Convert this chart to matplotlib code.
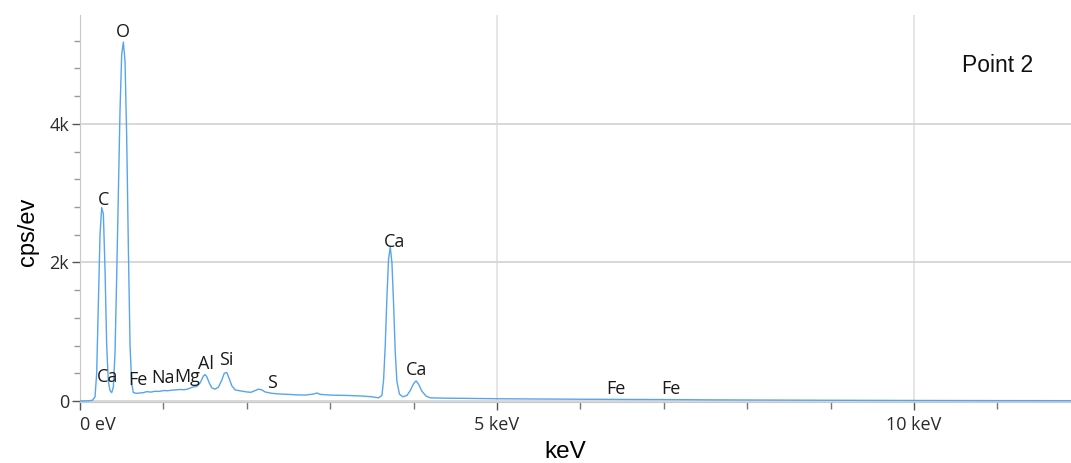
import matplotlib
matplotlib.use("Agg")
import matplotlib.pyplot as plt
from matplotlib.ticker import MultipleLocator, FixedLocator

# Spectrum (energy in keV, counts in cps/eV)
energy_kev = [0.00, 0.10, 0.15, 0.18, 0.20, 0.22, 0.24, 0.26, 0.28, 0.30, 0.32, 0.34,
              0.36, 0.38, 0.40, 0.42, 0.44, 0.46, 0.48, 0.50, 0.52, 0.54, 0.56, 0.58,
              0.60, 0.62, 0.64, 0.68, 0.72, 0.76, 0.80, 0.85, 0.90, 0.95, 1.00, 1.05,
              1.10, 1.15, 1.20, 1.25, 1.30, 1.35, 1.40, 1.44, 1.48, 1.50, 1.52, 1.55,
              1.58, 1.62, 1.66, 1.70, 1.73, 1.76, 1.79, 1.82, 1.86, 1.90, 1.95, 2.00,
              2.05, 2.10, 2.14, 2.18, 2.22, 2.26, 2.30, 2.40, 2.50, 2.60, 2.70, 2.80,
              2.84, 2.88, 3.00, 3.10, 3.20, 3.30, 3.40, 3.50, 3.58, 3.62, 3.64, 3.66,
              3.68, 3.70, 3.72, 3.74, 3.76, 3.78, 3.80, 3.83, 3.87, 3.92, 3.96, 4.00,
              4.03, 4.06, 4.10, 4.15, 4.20, 4.40, 4.60, 4.80, 5.00, 5.50, 6.00, 6.50,
              7.00, 7.50, 8.00, 9.00, 10.00, 11.00, 11.90]
counts = [0, 2, 10, 60, 400, 1400, 2400, 2790, 2700, 1900, 800, 280,
          150, 120, 200, 700, 1800, 3000, 4200, 5000, 5180, 4900, 3800, 2200,
          800, 250, 120, 110, 115, 120, 135, 128, 140, 138, 150, 148,
          155, 160, 165, 162, 175, 200, 210, 260, 360, 380, 350, 260,
          190, 170, 200, 300, 400, 410, 320, 220, 160, 150, 140, 130,
          125, 150, 170, 160, 130, 120, 110, 100, 95, 88, 85, 100,
          115, 95, 85, 82, 80, 75, 70, 60, 45, 80, 300, 800,
          1500, 2050, 2220, 2000, 1400, 700, 280, 100, 60, 80, 150, 250,
          290, 240, 140, 70, 45, 40, 38, 35, 32, 28, 25, 22,
          20, 16, 14, 10, 7, 5, 4]

# Element labels (label, energy keV, label height cps/eV)
peak_labels = ["O", "C", "Ca", "Fe", "Na", "Mg", "Al", "Si", "S", "Ca", "Ca", "Fe", "Fe"]
label_x = [0.52, 0.28, 0.33, 0.69, 1.00, 1.29, 1.51, 1.75, 2.30, 3.77, 4.03, 6.43, 7.09]
label_y = [5320, 2900, 340, 300, 330, 350, 540, 590, 260, 2290, 450, 170, 170]

x_tick_vals = [0, 5, 10]
x_tick_labels = ["0 eV", "5 keV", "10 keV"]
y_tick_vals = [0, 2000, 4000]
y_tick_labels = ["0", "2k", "4k"]

fig = plt.figure(figsize=(10.71, 4.63), dpi=100)
ax = fig.add_axes([80/1071, (463-402)/463, 1 - 80/1071, (402-15)/463])

ax.plot(energy_kev, counts, color="#56a5ee", lw=1.0, zorder=3)

ax.set_xlim(0, (1071-80)/83.4)
ax.set_ylim(-15, 5570)

ax.xaxis.set_major_locator(FixedLocator(x_tick_vals))
ax.xaxis.set_minor_locator(MultipleLocator(1))
ax.yaxis.set_major_locator(FixedLocator(y_tick_vals))
ax.yaxis.set_minor_locator(MultipleLocator(400))
ax.set_xticklabels(x_tick_labels, fontfamily="Open Sans", fontsize=13, color="#2a2a2a")
ax.set_yticklabels(y_tick_labels, fontfamily="Open Sans", fontsize=13, color="#2a2a2a")
ax.get_xticklabels()[0].set_horizontalalignment("left")

ax.tick_params(axis="x", which="major", length=6, width=1, color="#555555", pad=4)
ax.tick_params(axis="x", which="minor", length=5, width=1, color="#777777")
ax.tick_params(axis="y", which="major", length=6, width=1, color="#555555", pad=2)
ax.tick_params(axis="y", which="minor", length=4, width=1, color="#999999")

ax.grid(axis="y", which="major", color="#d6d6d6", lw=1.3, zorder=0)
ax.grid(axis="x", which="major", color="#e3e3e3", lw=1.3, zorder=0)

for s in ["top", "right"]:
    ax.spines[s].set_visible(False)
ax.spines["left"].set_color("#c8c8c8")
ax.spines["bottom"].set_color("#c8c8c8")

for lab, lx, ly in zip(peak_labels, label_x, label_y):
    ax.text(lx, ly, lab, ha="center", va="center", fontsize=13,
            fontfamily="Open Sans", color="#1a1a1a", zorder=4)

ax.text(11.0, 4840, "Point 2", ha="center", va="center", fontsize=16.5,
        fontfamily="Liberation Sans", color="#111111")

fig.text(28/1071, 1 - 232/463, "cps/ev", rotation=90, ha="center", va="center",
         fontsize=17, fontfamily="Liberation Sans")
fig.text(565/1071, 1 - 452/463, "keV", ha="center", va="center",
         fontsize=17.5, fontfamily="Liberation Sans")

fig.savefig("out.png", dpi=100)
